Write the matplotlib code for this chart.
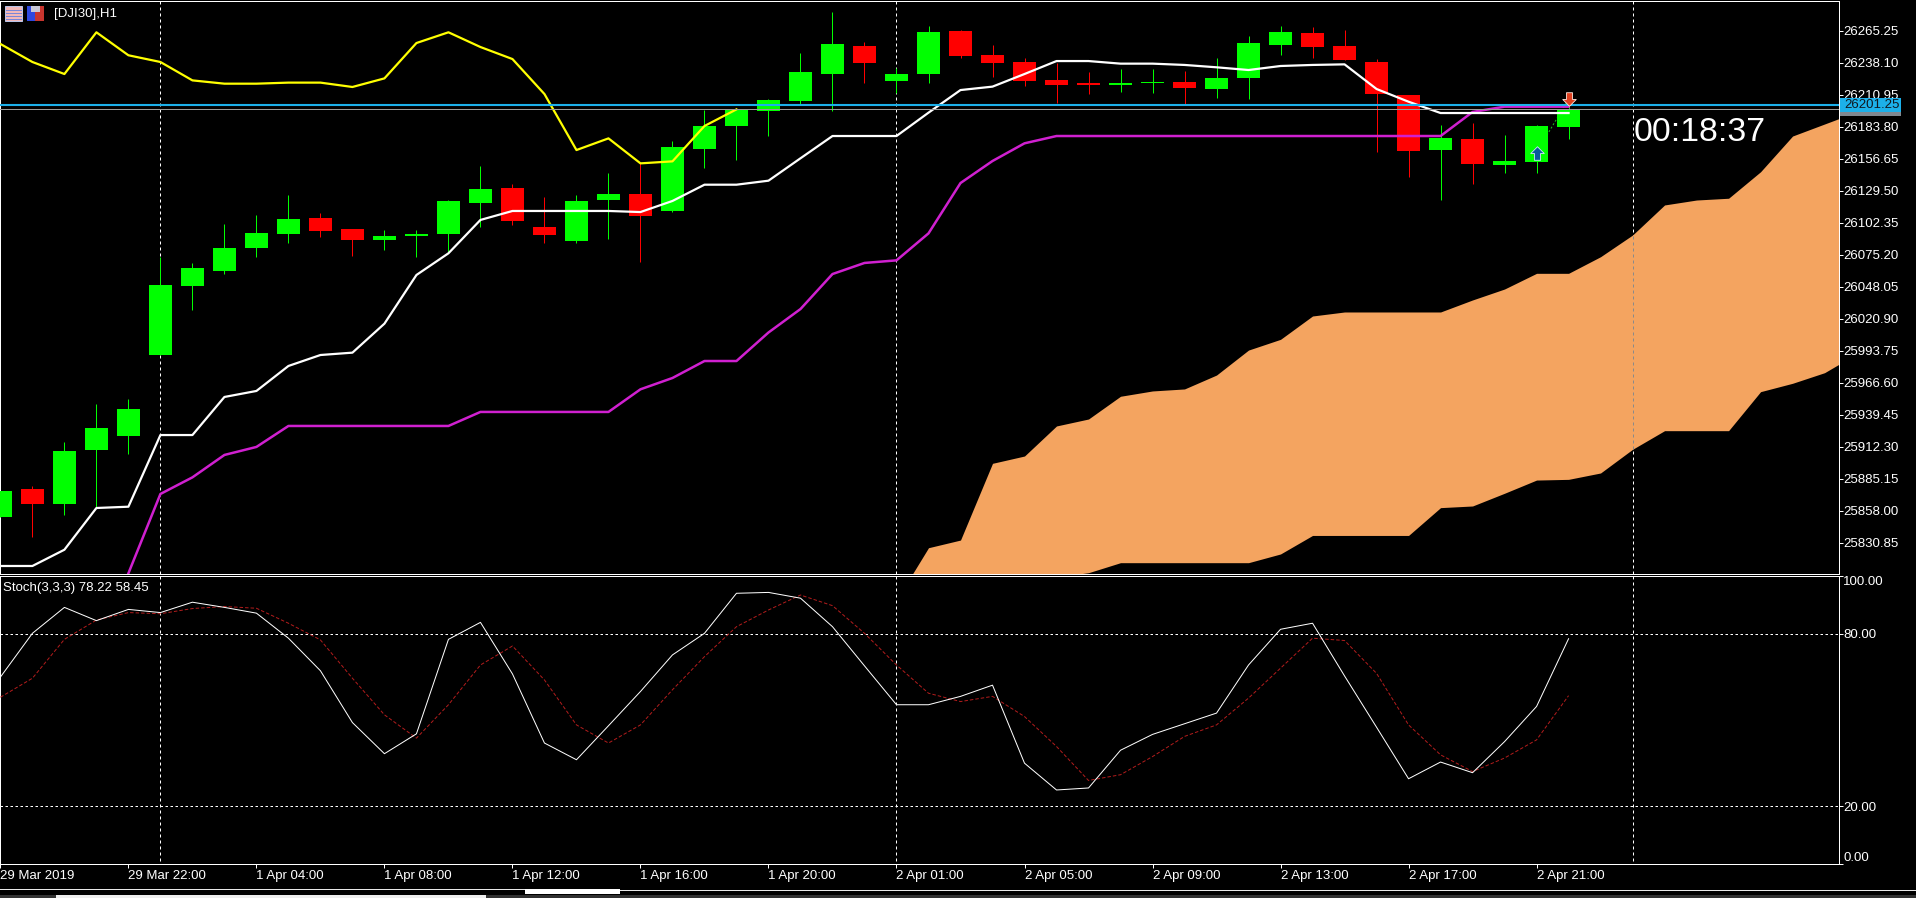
import numpy as np
import matplotlib
matplotlib.use("Agg")
import matplotlib.pyplot as plt
from matplotlib.patches import Rectangle
from matplotlib.path import Path as MplPath

W, H = 1916, 898

opens = [25852.9, 25876.4, 25863.9, 25909.5, 25921.6, 25990.4, 26048.9, 26061.6, 26080.9, 26092.8,
         26106.3, 26097.0, 26087.7, 26091.1, 26092.8, 26119.1, 26131.8, 26098.7, 26086.8, 26121.6,
         26126.7, 26112.3, 26164.9, 26184.4, 26197.1, 26205.6, 26228.5, 26252.3, 26222.6, 26228.5,
         26265.0, 26244.6, 26238.7, 26223.4, 26220.9, 26219.2, 26221.1, 26221.7, 26215.8, 26225.1,
         26253.1, 26263.3, 26252.3, 26238.7, 26210.7, 26164.0, 26173.4, 26151.3, 26153.9, 26183.5]
highs = [25874.7, 25879.0, 25916.1, 25948.5, 25952.8, 26073.3, 26068.2, 26101.3, 26108.9, 26125.9,
         26110.8, 26097.0, 26096.2, 26096.2, 26121.6, 26150.5, 26135.2, 26124.2, 26125.9, 26144.5,
         26153.0, 26171.7, 26198.0, 26198.8, 26207.3, 26246.3, 26280.9, 26255.7, 26233.6, 26269.2,
         26265.8, 26253.1, 26242.1, 26237.9, 26230.2, 26232.8, 26232.8, 26231.1, 26242.1, 26260.8,
         26269.2, 26268.4, 26265.8, 26241.2, 26210.7, 26185.2, 26186.9, 26176.8, 26185.2, 26201.4]
lows = [25852.9, 25836.0, 25854.4, 25861.4, 25906.4, 25990.4, 26028.3, 26058.8, 26073.3, 26085.1,
        26090.2, 26074.1, 26079.2, 26073.3, 26077.8, 26098.7, 26100.4, 26085.1, 26085.1, 26088.5,
        26069.3, 26111.4, 26148.8, 26155.6, 26175.9, 26203.1, 26197.1, 26220.9, 26212.4, 26220.9,
        26242.1, 26226.0, 26218.3, 26203.9, 26211.5, 26213.3, 26212.4, 26203.1, 26208.2, 26207.3,
        26244.6, 26242.1, 26240.4, 26162.3, 26141.1, 26121.6, 26135.2, 26144.5, 26144.5, 26173.4]
closes = [25874.7, 25863.9, 25908.7, 25928.2, 25944.3, 26049.5, 26063.9, 26080.9, 26093.6, 26105.5,
          26095.3, 26087.7, 26091.1, 26092.8, 26120.8, 26131.0, 26103.8, 26091.9, 26120.8, 26126.7,
          26108.0, 26166.6, 26184.4, 26198.8, 26206.5, 26230.2, 26254.0, 26237.9, 26228.5, 26264.2,
          26243.8, 26237.9, 26222.6, 26219.2, 26219.2, 26220.9, 26221.7, 26216.6, 26225.1, 26254.8,
          26264.2, 26251.4, 26240.4, 26211.5, 26163.2, 26174.2, 26152.2, 26154.7, 26184.4, 26198.8]

chikou = [26254.0, 26238.7, 26228.5, 26263.9, 26244.4, 26238.7, 26223.1, 26220.3, 26220.3, 26221.2,
          26221.2, 26217.5, 26224.8, 26254.8, 26263.9, 26251.4, 26241.2, 26211.5, 26164.0, 26173.9,
          26152.7, 26154.4, 26184.4, 26198.5]
tenkan = [25811.1, 25811.1, 25824.9, 25860.3, 25861.4, 25922.2, 25922.2, 25954.5, 25959.6, 25980.8,
          25990.1, 25992.1, 26016.7, 26058.0, 26076.4, 26104.7, 26112.3, 26112.3, 26112.3, 26112.3,
          26111.4, 26120.8, 26134.6, 26134.6, 26138.0, 26157.0, 26175.9, 26175.9, 26175.9, 26195.7,
          26214.9, 26217.8, 26228.5, 26239.5, 26239.5, 26237.3, 26237.3, 26236.2, 26234.2, 26231.9,
          26235.3, 26236.2, 26236.7, 26215.8, 26205.0, 26195.4, 26195.4, 26195.4, 26195.4, 26195.4]
kijun_start = 4
kijun = [25804.9, 25872.2, 25886.3, 25905.3, 25912.1, 25929.9, 25929.9, 25929.9, 25929.9, 25929.9,
         25929.9, 25941.8, 25941.8, 25941.8, 25941.8, 25941.8, 25961.0, 25970.6, 25985.0, 25985.0,
         26009.2, 26029.1, 26058.8, 26068.2, 26070.4, 26093.3, 26136.0, 26154.7, 26169.7, 26175.9,
         26175.9, 26175.9, 26175.9, 26175.9, 26175.9, 26175.9, 26175.9, 26175.9, 26175.9, 26175.9,
         26175.9, 26175.9, 26196.3, 26200.8, 26200.8, 26200.8]

cloud_start = 28
cloud_upper = [25782.2, 25826.6, 25833.1, 25898.2, 25904.4, 25929.9, 25935.8, 25955.1, 25959.6, 25961.3,
               25973.1, 25994.3, 26003.4, 26023.2, 26026.6, 26026.6, 26026.6, 26026.6, 26036.8, 26046.1,
               26059.4, 26059.4, 26073.5, 26091.9, 26117.4, 26121.6, 26123.1, 26145.6, 26175.9, 26186.1,
               26196.3]
cloud_lower = [25780.0, 25780.0, 25780.0, 25780.0, 25780.0, 25801.8, 25805.4, 25813.9, 25813.9, 25813.9,
               25813.9, 25813.9, 25821.3, 25837.0, 25837.0, 25837.0, 25837.0, 25860.6, 25862.0, 25872.8,
               25884.0, 25884.6, 25890.0, 25910.1, 25925.9, 25925.9, 25925.9, 25959.0, 25966.1, 25975.1,
               25991.0]

stoch_k = [64.9, 80.1, 89.1, 84.5, 88.4, 87.3, 90.9, 89.1, 87.1, 78.4,
           67.1, 49.1, 38.3, 45.2, 78.0, 83.9, 66.0, 42.0, 36.2, 48.0,
           59.9, 72.6, 80.1, 94.0, 94.3, 92.3, 82.4, 68.8, 55.3, 55.3,
           58.2, 62.1, 35.0, 25.7, 26.4, 39.5, 45.0, 48.7, 52.4, 69.1,
           81.5, 83.6, 65.3, 47.5, 29.6, 35.4, 31.7, 42.5, 54.7, 78.22]
stoch_d = [57.9, 64.5, 78.0, 84.7, 87.3, 86.9, 88.7, 89.4, 88.8, 83.6,
           77.8, 64.5, 51.8, 43.7, 55.3, 69.1, 75.7, 63.9, 48.3, 42.0,
           48.3, 60.5, 72.0, 82.4, 88.2, 93.4, 89.7, 80.1, 69.1, 59.3,
           56.4, 58.2, 51.2, 40.8, 29.0, 31.0, 37.3, 44.3, 48.3, 57.6,
           68.0, 78.4, 77.6, 66.2, 48.3, 37.9, 32.1, 36.8, 43.1, 58.45]

price_ticks = [26265.25, 26238.10, 26210.95, 26183.80, 26156.65, 26129.50, 26102.35, 26075.20, 26048.05,
               26020.90, 25993.75, 25966.60, 25939.45, 25912.30, 25885.15, 25858.00, 25830.85]
stoch_ticks = [100.0, 80.0, 20.0, 0.0]
time_tick_bars = [0, 4, 8, 12, 16, 20, 24, 28, 32, 36, 40, 44, 48]
time_labels = ["29 Mar 2019", "29 Mar 22:00", "1 Apr 04:00", "1 Apr 08:00", "1 Apr 12:00", "1 Apr 16:00",
               "1 Apr 20:00", "2 Apr 01:00", "2 Apr 05:00", "2 Apr 09:00", "2 Apr 13:00", "2 Apr 17:00",
               "2 Apr 21:00"]
period_sep_bars = [5, 28, 51]
bid_price = 26202.2
ask_price = 26198.6
buy_arrow = (48, 26161.9)
sell_arrow = (49, 26207.3)

GREEN = "#00ff00"
RED = "#ff0000"
CLOUD = "#f4a460"
BLUE = "#1cb0ea"
TEXT_FONT = ["Liberation Sans", "DejaVu Sans"]
FS = 9.5
PX = 0.72  # one pixel in points at dpi 100


def axes_px(fig, left, top, right, bottom):
    return fig.add_axes([left / W, 1 - bottom / H, (right - left) / W, (bottom - top) / H])


def style_axes(ax):
    ax.set_facecolor("black")
    for spine in ax.spines.values():
        spine.set_color("white")
        spine.set_linewidth(PX)
    ax.set_xlim(-0.0125, 57.45)
    ax.yaxis.tick_right()
    ax.tick_params(axis="y", colors="white", length=2.9, width=PX, pad=0, labelsize=FS)
    ax.tick_params(axis="x", colors="white", length=3, width=PX, pad=1.2, labelsize=FS)


def draw_chrome(fig):
    # top-left icons and the tab strip under the chart, in plain pixel coordinates
    ch = fig.add_axes([0, 0, 1, 1], zorder=10)
    ch.set_xlim(0, W)
    ch.set_ylim(H, 0)
    ch.axis("off")
    ch.add_patch(Rectangle((5, 6), 17, 15, fc="#f2b8b8", ec="#b8c4e8", lw=PX))
    for yy in (10, 13, 16, 19):
        ch.plot([6, 21], [yy, yy], color="#7a86d8", lw=PX)
    ch.add_patch(Rectangle((27, 6), 8, 15, fc="#2e48e0", ec="none"))
    ch.add_patch(Rectangle((35, 6), 9, 15, fc="#c8352e", ec="none"))
    ch.add_patch(Rectangle((31, 6), 9, 6, fc="#c8c8d8", ec="none"))
    ch.add_patch(Rectangle((0, 889), 525, 1.2, fc="#e8e8e8", ec="none"))
    ch.add_patch(Rectangle((525, 889), 95, 5, fc="white", ec="none"))
    ch.add_patch(Rectangle((620, 889.5), W - 620, 1.2, fc="#e8e8e8", ec="none"))
    ch.add_patch(Rectangle((0, 894.5), 56, 3.5, fc="#333333", ec="none"))
    ch.add_patch(Rectangle((56, 894.5), 430, 3.5, fc="#eeeeee", ec="none"))
    ch.add_patch(Rectangle((486, 894.5), W - 486, 3.5, fc="#303030", ec="none"))
    # price boxes on the right scale
    ch.add_patch(Rectangle((1840, 100), 61, 16, fc="#808890", ec="none", zorder=5))
    ch.text(1844, 109, "26198.12", color="white", fontsize=FS, family=TEXT_FONT, va="center", zorder=5)
    ch.add_patch(Rectangle((1840, 98), 61, 14.3, fc=BLUE, ec="none", zorder=6))
    ch.text(1844, 105.5, "26201.25", color="#101820", fontsize=FS, family=TEXT_FONT, va="center", zorder=7)
    ch.text(54, 13.7, "[DJI30],H1", color="white", fontsize=FS, family=TEXT_FONT, va="center")
    ch.text(3.5, 587.5, "Stoch(3,3,3) 78.22 58.45", color="white", fontsize=FS, family=TEXT_FONT, va="center")
    ch.text(1633.5, 132.5, "00:18:37", color="white", fontsize=24.3, family=TEXT_FONT, va="center")


def main():
    fig = plt.figure(figsize=(W / 100, H / 100), dpi=100, facecolor="black")
    ax = axes_px(fig, 0, 1, 1839, 574)
    sub = axes_px(fig, 0, 576, 1839, 864)
    style_axes(ax)
    style_axes(sub)

    o = np.array(opens)
    h = np.array(highs)
    l = np.array(lows)
    c = np.array(closes)
    bars = np.arange(len(o))
    up = c >= o
    colors = np.where(up, GREEN, RED)

    upper = np.array(cloud_upper)
    lower = np.array(cloud_lower)
    cloud_x = np.arange(cloud_start, cloud_start + len(upper))
    ax.fill_between(cloud_x, lower, upper, color=CLOUD, linewidth=0, zorder=2)

    for b in period_sep_bars:
        ax.axvline(b, color="white", lw=PX, dashes=(3, 3), zorder=1)
        sub.axvline(b, color="white", lw=PX, dashes=(3, 3), zorder=1, ymin=0.01)
    sep_idx = period_sep_bars[-1] - cloud_start
    ax.vlines(period_sep_bars[-1], lower[sep_idx], upper[sep_idx], color="#8a8a8a", lw=PX,
              linestyles=(0, (3, 3)), zorder=3)

    ax.plot([buy_arrow[0], sell_arrow[0]], [buy_arrow[1], sell_arrow[1]], color="#20c020", lw=PX,
            dashes=(2, 2), zorder=3)
    ax.vlines(bars, l, h, colors=colors, lw=PX, zorder=4)
    ax.bar(bars, c - o, bottom=o, width=0.72, color=colors, linewidth=0, zorder=5, antialiased=False)

    ax.plot(np.arange(len(chikou)), chikou, color="#ffff00", lw=1.6, zorder=6)
    ax.plot(bars, tenkan, color="white", lw=1.6, zorder=7)
    ax.plot(np.arange(kijun_start, kijun_start + len(kijun)), kijun, color="#d020d0", lw=1.8, zorder=6)

    ax.axhline(ask_price, color="#9a9a9a", lw=PX, zorder=8)
    ax.axhline(bid_price, color=BLUE, lw=1.5, zorder=8)

    arrow = MplPath([(0, 1), (1, 0), (0.45, 0), (0.45, -1), (-0.45, -1), (-0.45, 0), (-1, 0), (0, 1)], closed=True)
    down = MplPath([(0, -1), (1, 0), (0.45, 0), (0.45, 1), (-0.45, 1), (-0.45, 0), (-1, 0), (0, -1)], closed=True)
    ax.scatter(*buy_arrow, marker=arrow, s=95, color="#0a5a9c", edgecolors="#d0e8f8", linewidths=0.6, zorder=9)
    ax.scatter(*sell_arrow, marker=down, s=95, color="#e04020", edgecolors="#ffe8e0", linewidths=0.6, zorder=9)

    ax.set_ylim(25804.3, 26290.45)
    ax.set_xticks([])
    ax.set_yticks(price_ticks)
    ax.set_yticklabels([f"{t:.2f}" for t in price_ticks], family=TEXT_FONT)

    sub.plot(bars, stoch_d, color="#b01c1c", lw=PX, dashes=(3.5, 2), zorder=4)
    sub.plot(bars, stoch_k, color="white", lw=PX, zorder=5)
    for level in stoch_ticks[1:3]:
        sub.axhline(level, color="white", lw=PX, dashes=(2.5, 2.5), zorder=2)
    sub.set_ylim(0, 100)
    sub.set_yticks(stoch_ticks)
    labels = sub.set_yticklabels([f"{t:.2f}" for t in stoch_ticks], family=TEXT_FONT)
    labels[0].set_va("top")
    labels[-1].set_va("bottom")
    sub.set_xticks(time_tick_bars)
    sub.set_xticklabels(time_labels, family=TEXT_FONT, ha="left")

    draw_chrome(fig)
    fig.savefig("out.png", dpi=100, facecolor="black")
    plt.close(fig)


if __name__ == "__main__":
    main()
